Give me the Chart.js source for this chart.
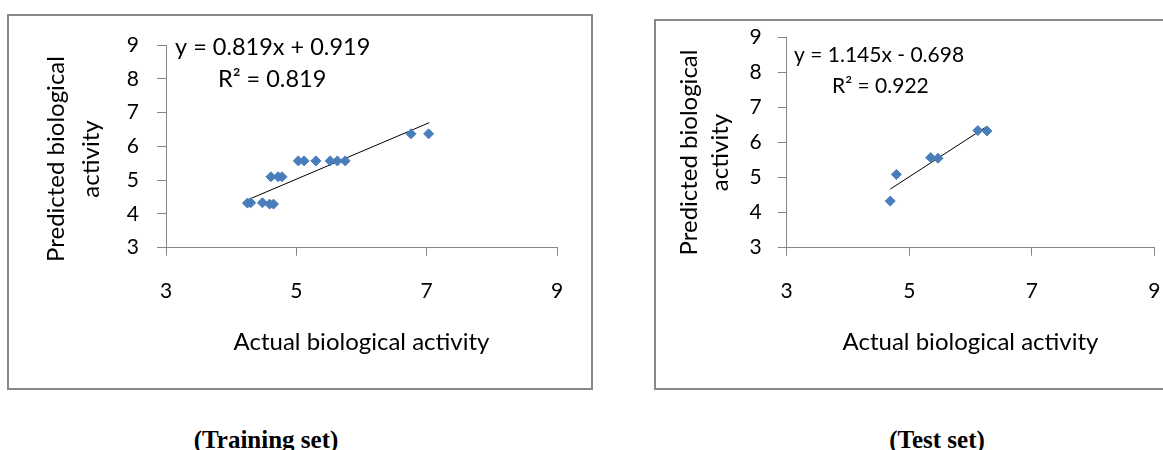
<!DOCTYPE html>
<html>
<head>
<meta charset="utf-8">
<script src="https://cdn.jsdelivr.net/npm/chart.js@4.4.1/dist/chart.umd.min.js"></script>
<style>
  body { margin: 0; background: #fff; width: 1163px; height: 450px; overflow: hidden; position: relative; }
  .box { position: absolute; border: 2px solid #888; box-sizing: border-box; }
  #box1 { left: 7px; top: 14px; width: 586px; height: 376px; }
  #box2 { left: 654px; top: 19px; width: 600px; height: 371px; }
  canvas { position: absolute; top: 0; }
  #train { left: 0; }
  #test { left: 600px; }
  .caption { position: absolute; top: 426px; width: 200px; text-align: center; line-height: 25px;
             font: bold 25px "Liberation Serif", "Times New Roman", serif; color: #000; }
</style>
</head>
<body>
<div class="box" id="box1"></div>
<div class="box" id="box2"></div>
<canvas id="train" width="600" height="400"></canvas>
<canvas id="test" width="563" height="400"></canvas>
<div class="caption" style="left:166px">(Training set)</div>
<div class="caption" style="left:837px">(Test set)</div>

<script>
// Training set (actual vs predicted)
const trainActual    = [4.25, 4.30, 4.48, 4.59, 4.65, 4.61, 4.72, 4.78, 5.03, 5.12, 5.30, 5.52, 5.63, 5.75, 6.76, 7.03];
const trainPredicted = [4.32, 4.33, 4.33, 4.29, 4.29, 5.10, 5.10, 5.10, 5.57, 5.57, 5.57, 5.57, 5.57, 5.57, 6.37, 6.37];
// trendline end points as drawn
const trainFitX = [4.27, 7.04];
const trainFitY = [4.43, 6.70];

// Test set
const testActual    = [4.69, 4.79, 5.35, 5.47, 6.12, 6.27];
const testPredicted = [4.33, 5.09, 5.57, 5.55, 6.34, 6.33];
const testFitX = [4.69, 6.26];
const testFitY = [4.67, 6.45];

const axisMin = 3;
const axisMax = 9;
const xStep = 2;
const yStep = 1;

const yTitle = ["Predicted biological", "activity"];
const xTitle = "Actual biological activity";
const trainEq = ["y = 0.819x + 0.919", "R\u00b2 = 0.819"];
const testEq = ["y = 1.145x - 0.698", "R\u00b2 = 0.922"];

Chart.defaults.font.family = "Lato, 'Open Sans', sans-serif";
Chart.defaults.color = "#000";

const AXIS_GREY = "#868686";
const POINT_BLUE = "#4a7ebb";

// draws the rotated two-line y title and the trendline equation
const notesPlugin = {
  id: "notes",
  afterDraw(chart, args, opts) {
    const ctx = chart.ctx;
    ctx.save();
    ctx.fillStyle = "#000";
    ctx.textBaseline = "middle";
    ctx.textAlign = "center";
    ctx.font = opts.titleFont;
    opts.yTitle.forEach((line, i) => {
      ctx.save();
      ctx.translate(opts.yTitleX[i], opts.yTitleY);
      ctx.rotate(-Math.PI / 2);
      ctx.fillText(line, 0, 0);
      ctx.restore();
    });
    ctx.textAlign = "left";
    ctx.font = opts.eqFont;
    opts.eq.forEach((line, i) => {
      ctx.fillText(line, opts.eqX[i], opts.eqY[i]);
    });
    ctx.restore();
  },
};

function makeChart(id, xs, ys, fitX, fitY, layout, notes) {
  const ctx = document.getElementById(id).getContext("2d");
  return new Chart(ctx, {
    type: "scatter",
    data: {
      datasets: [
        {
          data: xs.map((x, i) => ({ x, y: ys[i] })),
          pointStyle: "rectRot",
          pointRadius: 5,
          pointBackgroundColor: POINT_BLUE,
          pointBorderColor: POINT_BLUE,
          pointBorderWidth: 1,
        },
        {
          data: fitX.map((x, i) => ({ x, y: fitY[i] })),
          showLine: true,
          borderColor: "#000",
          borderWidth: 1,
          pointRadius: 0,
        },
      ],
    },
    options: {
      responsive: false,
      animation: false,
      events: [],
      layout: { padding: layout.padding },
      plugins: {
        legend: { display: false },
        tooltip: { enabled: false },
        notes: notes,
      },
      scales: {
        x: {
          type: "linear",
          min: axisMin,
          max: axisMax,
          afterFit: (scale) => {
            scale.height = layout.xHeight;
            // labels sit far below the axis, don't let that squeeze the plot
            scale.paddingLeft = 0;
            scale.paddingRight = 0;
          },
          ticks: { stepSize: xStep, padding: 23, font: { size: 21 } },
          grid: { drawOnChartArea: false, drawTicks: true, tickLength: 8, color: AXIS_GREY },
          border: { color: AXIS_GREY, width: 1 },
          title: { display: true, text: xTitle, font: { size: 24 }, padding: 0 },
        },
        y: {
          type: "linear",
          min: axisMin,
          max: axisMax,
          afterFit: (scale) => { scale.width = layout.yWidth; },
          ticks: { stepSize: yStep, padding: layout.yPad, font: { size: 21 } },
          grid: { drawOnChartArea: false, drawTicks: true, tickLength: 9, color: AXIS_GREY },
          border: { color: AXIS_GREY, width: 1 },
        },
      },
    },
    plugins: [notesPlugin],
  });
}

makeChart("train", trainActual, trainPredicted, trainFitX, trainFitY,
  { padding: { left: 0, top: 45, right: 43, bottom: 43 }, xHeight: 109.3, yWidth: 166, yPad: 18 },
  {
    yTitle: yTitle, yTitleX: [56, 91], yTitleY: 159, titleFont: "24px Lato",
    eq: trainEq, eqX: [175, 218], eqY: [47, 79], eqFont: "23.5px Lato",
  });

makeChart("test", testActual, testPredicted, testFitX, testFitY,
  { padding: { left: 0, top: 37.3, right: 8.7, bottom: 43 }, xHeight: 109.3, yWidth: 186.7, yPad: 16 },
  {
    yTitle: yTitle, yTitleX: [89, 120], yTitleY: 152.5, titleFont: "24px Lato",
    eq: testEq, eqX: [194, 232], eqY: [55, 86], eqFont: "21px Lato",
  });
</script>
</body>
</html>
